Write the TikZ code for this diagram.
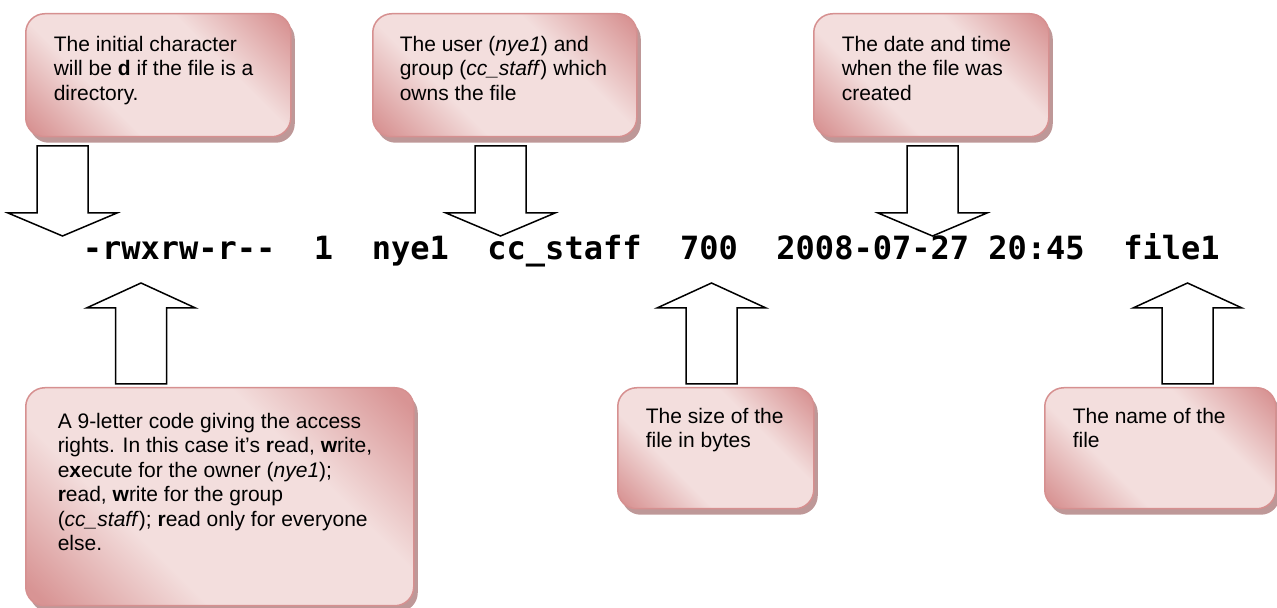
\documentclass[tikz,border=0pt]{standalone}
\usepackage{fontspec}
\setmainfont{Liberation Sans}
\setmonofont{DejaVu Sans Mono}
\usetikzlibrary{positioning,shadows}

\definecolor{calloutdark}{RGB}{216,148,148}
\definecolor{calloutlight}{RGB}{243,222,221}
\definecolor{calloutedge}{RGB}{214,144,144}
\definecolor{calloutshadow}{RGB}{190,152,152}

\pgfdeclareverticalshading{calloutfill}{100bp}{color(0bp)=(calloutdark); color(17bp)=(calloutdark);
  color(36bp)=(calloutlight); color(64bp)=(calloutlight); color(83bp)=(calloutdark); color(100bp)=(calloutdark)}

\tikzset{
  callout/.style={rectangle, rounded corners=19bp, draw=calloutedge, line width=1.5bp,
    shade, shading=calloutfill, shading angle=-45,
    drop shadow={shadow xshift=4bp, shadow yshift=-6bp, fill=calloutshadow, opacity=1},
    anchor=north west, inner sep=0pt},
  note/.style={anchor=north west, inner sep=0pt, align=left,
    font=\fontsize{21bp}{24.5bp}\selectfont},
  field/.style={anchor=base west, inner sep=0pt,
    font=\fontsize{32bp}{38bp}\selectfont\ttfamily\bfseries},
  blockarrow/.style={draw=black, fill=white, line width=1.5bp, line join=miter},
}

\begin{document}
\begin{tikzpicture}[line join=bevel]
\pgfsetlinewidth{1.5bp}
\useasboundingbox (0bp,0bp) rectangle (1277bp,608bp);

% Fields of the listing
\node[field] (perm)  at (82bp,348bp)    {-rwxrw-r--};
\node[field] (links) at (313.2bp,348bp) {1};
\node[field] (user)  at (371.1bp,348bp) {nye1};
\node[field] (group) at (486.7bp,348bp) {cc\_staff};
\node[field] (size)  at (679.4bp,348bp) {700};
\node[field] (date)  at (775.7bp,348bp) {2008-07-27 20:45};
\node[field] (name)  at (1122.6bp,348bp) {file1};

% Edge: initbox -> perm
\coordinate (initfoot) at (62.5bp,462bp);
\draw[blockarrow] (initfoot) ++(-25.5bp,0) -- ++(51bp,0) -- ++(0,-67bp) -- ++(29bp,0)
  -- ++(-54.5bp,-23bp) -- ++(-54.5bp,23bp) -- ++(29bp,0) -- cycle;

% Edge: ownerbox -> group
\coordinate (ownerfoot) at (500.5bp,462bp);
\draw[blockarrow] (ownerfoot) ++(-25.5bp,0) -- ++(51bp,0) -- ++(0,-67bp) -- ++(29bp,0)
  -- ++(-54.5bp,-23bp) -- ++(-54.5bp,23bp) -- ++(29bp,0) -- cycle;

% Edge: datebox -> date
\coordinate (datefoot) at (932.5bp,462bp);
\draw[blockarrow] (datefoot) ++(-25.5bp,0) -- ++(51bp,0) -- ++(0,-67bp) -- ++(29bp,0)
  -- ++(-54.5bp,-23bp) -- ++(-54.5bp,23bp) -- ++(29bp,0) -- cycle;

% Edge: rightsbox -> perm
\coordinate (rightshead) at (141bp,224bp);
\draw[blockarrow] (rightshead) ++(-25.5bp,0) -- ++(51bp,0) -- ++(0,76bp) -- ++(29bp,0)
  -- ++(-54.5bp,25bp) -- ++(-54.5bp,-25bp) -- ++(29bp,0) -- cycle;

% Edge: sizebox -> size
\coordinate (sizehead) at (711.5bp,224bp);
\draw[blockarrow] (sizehead) ++(-25.5bp,0) -- ++(51bp,0) -- ++(0,76bp) -- ++(29bp,0)
  -- ++(-54.5bp,25bp) -- ++(-54.5bp,-25bp) -- ++(29bp,0) -- cycle;

% Edge: namebox -> name
\coordinate (namehead) at (1187.5bp,224bp);
\draw[blockarrow] (namehead) ++(-25.5bp,0) -- ++(51bp,0) -- ++(0,76bp) -- ++(29bp,0)
  -- ++(-54.5bp,25bp) -- ++(-54.5bp,-25bp) -- ++(29bp,0) -- cycle;

% Node: initbox
\node[callout, minimum width=265bp, minimum height=123bp] (initbox) at (25bp,595bp) {};
\node[note, below right=22.5bp and 28bp of initbox.north west] (inittext)
  {The initial character\\will be \textbf{d} if the file is a\\directory.};

% Node: ownerbox
\node[callout, minimum width=264bp, minimum height=123bp] (ownerbox) at (372bp,595bp) {};
\node[note, below right=22.5bp and 27bp of ownerbox.north west] (ownertext)
  {The user (\textit{nye1}) and\\group (\textit{cc\_staff}) which\\owns the file};

% Node: datebox
\node[callout, minimum width=235bp, minimum height=123bp] (datebox) at (813bp,595bp) {};
\node[note, below right=22.5bp and 28bp of datebox.north west] (datetext)
  {The date and time\\when the file was\\created};

% Node: rightsbox
\node[callout, minimum width=388bp, minimum height=218bp] (rightsbox) at (25bp,221bp) {};
\node[note, below right=25.5bp and 32bp of rightsbox.north west] (rightstext)
  {A 9-letter code giving the access\\rights. In this case it’s \textbf{r}ead, \textbf{w}rite,\\
   e\textbf{x}ecute for the owner (\textit{nye1});\\\textbf{r}ead, \textbf{w}rite for the group\\
   (\textit{cc\_staff}); \textbf{r}ead only for everyone\\else.};

% Node: sizebox
\node[callout, minimum width=196bp, minimum height=121bp] (sizebox) at (617bp,221bp) {};
\node[note, below right=20.5bp and 28bp of sizebox.north west] (sizetext)
  {The size of the\\file in bytes};

% Node: namebox
\node[callout, minimum width=231bp, minimum height=121bp] (namebox) at (1044bp,221bp) {};
\node[note, below right=20.5bp and 28bp of namebox.north west] (nametext)
  {The name of the\\file};

\end{tikzpicture}
\end{document}
